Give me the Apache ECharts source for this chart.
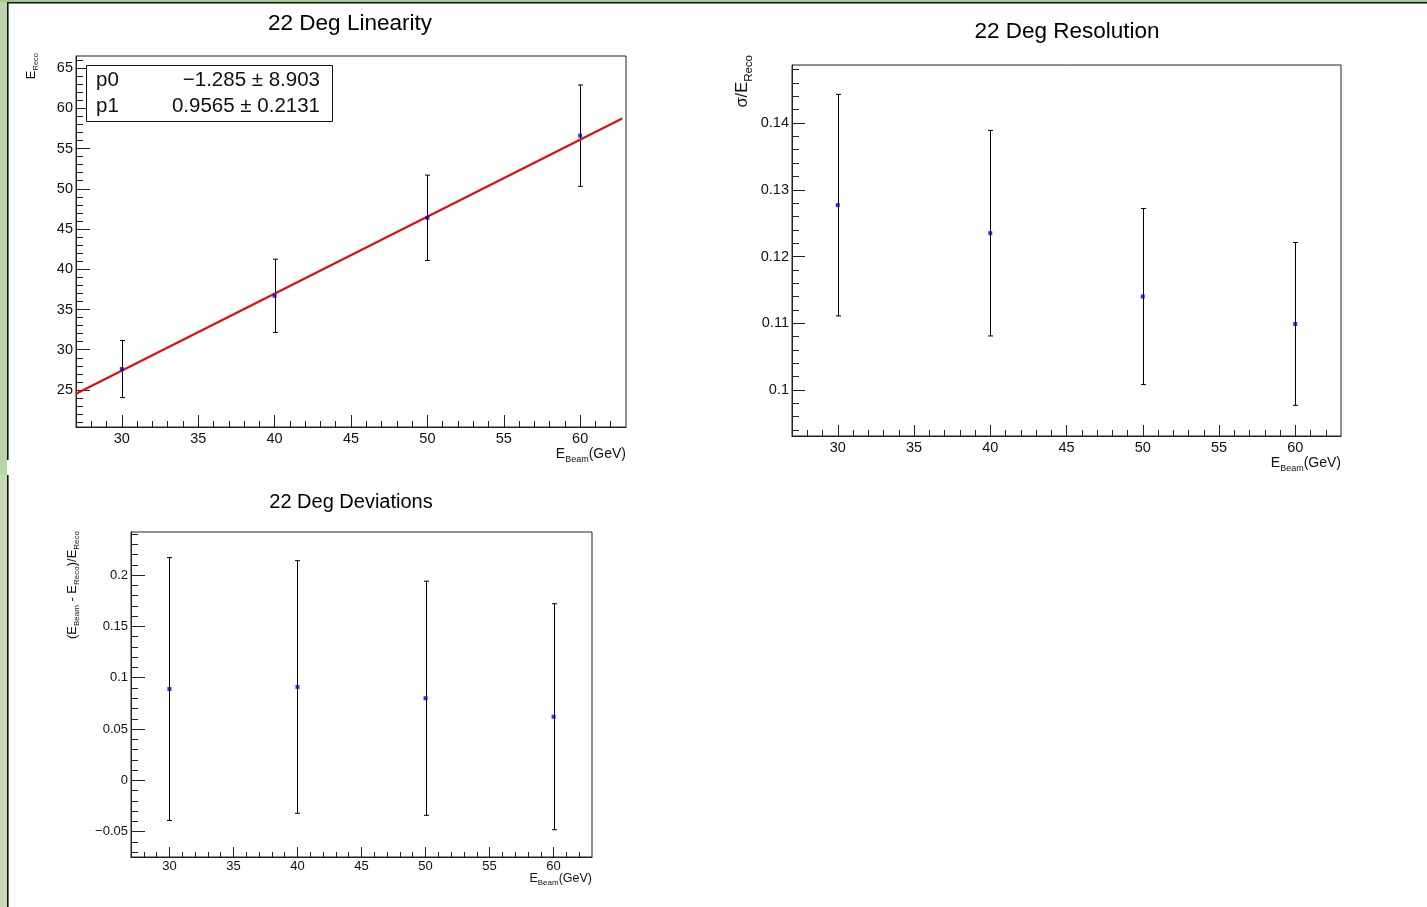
<!DOCTYPE html>
<html><head><meta charset="utf-8">
<script src="https://cdn.jsdelivr.net/npm/echarts@6/dist/echarts.min.js"></script>
<style>html,body{margin:0;padding:0;background:#fff}#c{width:1427px;height:907px}</style>
</head><body><div id="c"></div>
<script>
// ---------- data ----------
const beamEnergy = [30, 40, 50, 60];
const linReco = [27.6, 36.7, 46.4, 56.6];
const linErr = [3.55, 4.55, 5.3, 6.3];
const fitX = [27, 62.75];
const fitY = [24.54, 58.74];
const fitNames = ['p0', 'p1'];
const fitValues = ['\u22121.285 \u00b1 8.903', '0.9565 \u00b1 0.2131'];
const resVal = [0.1277, 0.1235, 0.1140, 0.1099];
const resErr = [0.0166, 0.0154, 0.0132, 0.0122];
const devVal = [0.089, 0.091, 0.080, 0.062];
const devErr = [0.128, 0.123, 0.114, 0.110];
const xTickLabels = [30, 35, 40, 45, 50, 55, 60];
const linYTickLabels = [25, 30, 35, 40, 45, 50, 55, 60, 65];
const resYTickLabels = [0.1, 0.11, 0.12, 0.13, 0.14];
const devYTickLabels = [-0.05, 0, 0.05, 0.1, 0.15, 0.2];
const titles = ['22 Deg Linearity', '22 Deg Resolution', '22 Deg Deviations'];

// minor tick positions
function steps(a, b, st, dec) { const r = []; for (let v = a; v <= b + st / 2; v += st) r.push(Math.round(v * dec) / dec); return r; }
const xMinor = steps(28, 62, 1, 1);
const linYMinor = steps(21, 66, 1, 1);
const resYMinor = steps(0.094, 0.148, 0.002, 1000);
const devYMinor = steps(-0.07, 0.24, 0.01, 100);

const ff = "'Liberation Sans', Arial, Helvetica, sans-serif";
const axisCol = '#222';

function xAxes(gi, min, max, majors, minors, majLen, minLen, fs, margin) {
  return [
    { type: 'value', gridIndex: gi, min, max, position: 'bottom',
      axisLine: { show: true, onZero: false, lineStyle: { color: axisCol, width: 1 } },
      axisTick: { show: true, inside: true, length: majLen, customValues: majors, lineStyle: { color: axisCol, width: 1 } },
      axisLabel: { show: true, customValues: majors, margin, fontSize: fs, color: '#111', fontFamily: ff },
      splitLine: { show: false } },
    { type: 'value', gridIndex: gi, min, max, position: 'bottom',
      axisLine: { show: false, onZero: false },
      axisTick: { show: true, inside: true, length: minLen, customValues: minors, lineStyle: { color: axisCol, width: 1 } },
      axisLabel: { show: false }, splitLine: { show: false } }
  ];
}
function yAxes(gi, min, max, majors, minors, majLen, minLen, fs, margin) {
  return [
    { type: 'value', gridIndex: gi, min, max, position: 'left',
      axisLine: { show: true, onZero: false, lineStyle: { color: axisCol, width: 1 } },
      axisTick: { show: true, inside: true, length: majLen, customValues: majors, lineStyle: { color: axisCol, width: 1 } },
      axisLabel: { show: true, customValues: majors, margin, fontSize: fs, color: '#111', fontFamily: ff,
        formatter: v => (v < 0 ? '\u2212' + String(-v) : String(v)) },
      splitLine: { show: false } },
    { type: 'value', gridIndex: gi, min, max, position: 'left',
      axisLine: { show: false, onZero: false },
      axisTick: { show: true, inside: true, length: minLen, customValues: minors, lineStyle: { color: axisCol, width: 1 } },
      axisLabel: { show: false }, splitLine: { show: false } }
  ];
}

function errSeries(xi, yi, vals, errs) {
  return {
    type: 'custom', xAxisIndex: xi, yAxisIndex: yi, z: 3, silent: true,
    data: beamEnergy.map((x, i) => [x, vals[i] - errs[i], vals[i] + errs[i]]),
    encode: { x: 0, y: [1, 2] },
    renderItem(params, api) {
      const x = api.value(0);
      const lo = api.coord([x, api.value(1)]);
      const hi = api.coord([x, api.value(2)]);
      const px = Math.round(lo[0]) + 0.5;
      const st = { stroke: '#000', lineWidth: 1 };
      return { type: 'group', children: [
        { type: 'line', shape: { x1: px, y1: hi[1], x2: px, y2: lo[1] }, style: st },
        { type: 'line', shape: { x1: px - 2.5, y1: hi[1], x2: px + 2.5, y2: hi[1] }, style: st },
        { type: 'line', shape: { x1: px - 2.5, y1: lo[1], x2: px + 2.5, y2: lo[1] }, style: st }
      ] };
    }
  };
}
function pointSeries(xi, yi, vals) {
  return { type: 'scatter', xAxisIndex: xi, yAxisIndex: yi, z: 5, silent: true,
    data: beamEnergy.map((x, i) => [x, vals[i]]),
    symbol: 'rect', symbolSize: 4, itemStyle: { color: '#0000dd' } };
}

function richStyles(f, s) {
  return {
    m: { fontSize: f, lineHeight: f + 1, fontFamily: ff, fill: '#111', verticalAlign: 'top' },
    s: { fontSize: s, lineHeight: s, padding: [Math.round(f * 0.55), 0, 0, 0], fontFamily: ff, fill: '#111', verticalAlign: 'top' }
  };
}
function axisTitle(x, y, text, f, s, rotated) {
  return { type: 'text', x, y, rotation: rotated ? Math.PI / 2 : 0, z: 100,
    style: { text, rich: richStyles(f, s), align: 'right', verticalAlign: 'top' } };
}

const gridStyle = { show: true, borderColor: axisCol, borderWidth: 1, backgroundColor: 'transparent' };

const option = {
  animation: false,
  backgroundColor: '#fff',
  title: [
    { text: titles[0], left: 350, top: 11, textAlign: 'center', padding: 0,
      textStyle: { fontSize: 22.5, fontWeight: 'normal', color: '#000', fontFamily: ff, lineHeight: 25 } },
    { text: titles[1], left: 1067, top: 19, textAlign: 'center', padding: 0,
      textStyle: { fontSize: 22.5, fontWeight: 'normal', color: '#000', fontFamily: ff, lineHeight: 25 } },
    { text: titles[2], left: 351, top: 491, textAlign: 'center', padding: 0,
      textStyle: { fontSize: 20, fontWeight: 'normal', color: '#000', fontFamily: ff, lineHeight: 23 } }
  ],
  grid: [
    Object.assign({ left: 76, top: 56, width: 550, height: 371 }, gridStyle),
    Object.assign({ left: 792, top: 65, width: 549, height: 371 }, gridStyle),
    Object.assign({ left: 131, top: 532, width: 461, height: 325 }, gridStyle)
  ],
  xAxis: [].concat(
    xAxes(0, 27, 63, xTickLabels, xMinor, 12, 6, 14.5, 4),
    xAxes(1, 27, 63, xTickLabels, xMinor, 11, 6, 14.5, 4),
    xAxes(2, 27, 63, xTickLabels, xMinor, 10, 5, 13, 3)
  ),
  yAxis: [].concat(
    yAxes(0, 20.4, 66.5, linYTickLabels, linYMinor, 14, 7, 14.5, 3),
    yAxes(1, 0.0931, 0.1487, resYTickLabels, resYMinor, 13, 7, 14.5, 3),
    yAxes(2, -0.0746, 0.2419, devYTickLabels, devYMinor, 14, 7, 13, 3)
  ),
  series: [
    errSeries(0, 0, linReco, linErr),
    { type: 'line', xAxisIndex: 0, yAxisIndex: 0, z: 4, silent: true, symbol: 'none',
      data: fitX.map((x, i) => [x, fitY[i]]), lineStyle: { color: '#dd1010', width: 2.2 } },
    pointSeries(0, 0, linReco),
    errSeries(2, 2, resVal, resErr),
    pointSeries(2, 2, resVal),
    errSeries(4, 4, devVal, devErr),
    pointSeries(4, 4, devVal)
  ],
  graphic: [
    // canvas frame
    { type: 'rect', shape: { x: 0, y: 0, width: 7, height: 475 }, style: { fill: '#bcd4ac' }, z: 1 },
    { type: 'rect', shape: { x: 0, y: 475, width: 7, height: 432 }, style: { fill: '#c5dbb6' }, z: 1 },
    { type: 'rect', shape: { x: 0, y: 0, width: 1427, height: 2 }, style: { fill: '#a9c994' }, z: 1 },
    { type: 'rect', shape: { x: 7, y: 2, width: 1420, height: 1.5 }, style: { fill: '#111' }, z: 1 },
    { type: 'rect', shape: { x: 7, y: 2, width: 1.6, height: 458 }, style: { fill: '#111' }, z: 1 },
    { type: 'rect', shape: { x: 7, y: 475, width: 1.6, height: 432 }, style: { fill: '#111' }, z: 1 },
    // fit statistics box
    { type: 'rect', shape: { x: 86.5, y: 65.5, width: 246, height: 56 }, style: { fill: '#fff', stroke: '#111', lineWidth: 1 }, z: 100 },
    { type: 'text', x: 96, y: 80, z: 101, style: { text: fitNames[0], fontSize: 20.5, fontFamily: ff, fill: '#111', align: 'left', verticalAlign: 'middle' } },
    { type: 'text', x: 320, y: 80, z: 101, style: { text: fitValues[0], fontSize: 20.5, fontFamily: ff, fill: '#111', align: 'right', verticalAlign: 'middle' } },
    { type: 'text', x: 96, y: 106, z: 101, style: { text: fitNames[1], fontSize: 20.5, fontFamily: ff, fill: '#111', align: 'left', verticalAlign: 'middle' } },
    { type: 'text', x: 320, y: 106, z: 101, style: { text: fitValues[1], fontSize: 20.5, fontFamily: ff, fill: '#111', align: 'right', verticalAlign: 'middle' } },
    // axis titles
    axisTitle(626, 447, '{m|E}{s|Beam}{m|(GeV)}', 14, 9, false),
    axisTitle(1341, 456, '{m|E}{s|Beam}{m|(GeV)}', 14, 9, false),
    axisTitle(592, 872, '{m|E}{s|Beam}{m|(GeV)}', 12.5, 8, false),
    axisTitle(25, 53, '{m|E}{s|Reco}', 13, 7.5, true),
    axisTitle(734, 55, '{m|\u03c3/E}{s|Reco}', 16.5, 11.5, true),
    axisTitle(66, 531, '{m|(E}{s|Beam}{m| - E}{s|Reco}{m|)/E}{s|Reco}', 13, 8, true)
  ]
};

const chart = echarts.init(document.getElementById('c'), null, { renderer: 'canvas' });
chart.setOption(option);
</script>
</body></html>
